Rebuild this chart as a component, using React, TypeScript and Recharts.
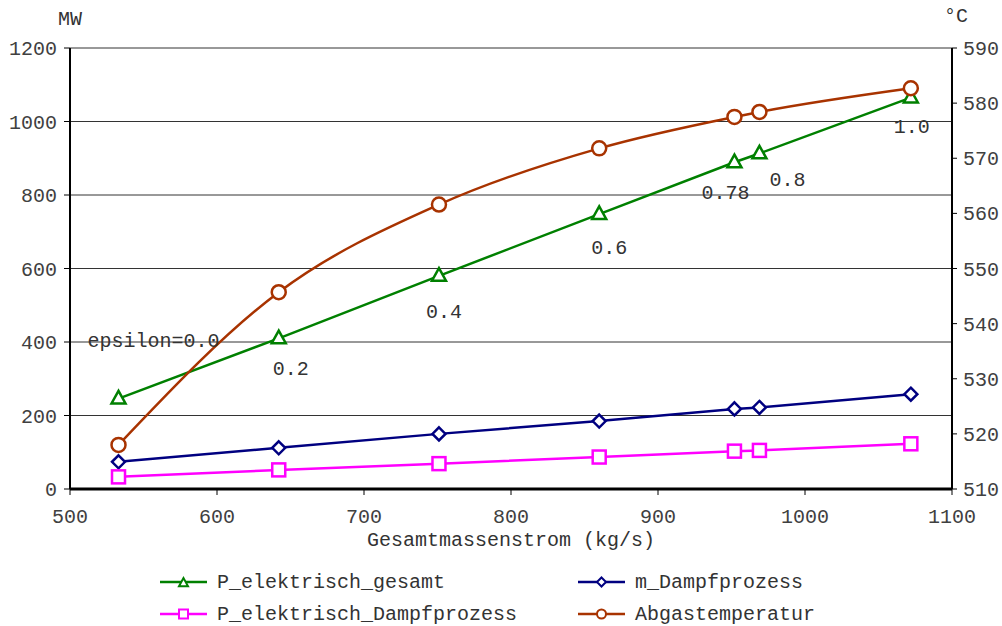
import * as React from 'react';
import { LineChart, Line, XAxis, YAxis, CartesianGrid, Legend, LabelList } from 'recharts';

const FONT = '"Liberation Mono", "DejaVu Sans Mono", monospace';

// mass flow through the plant, kg/s
const massFlow = [533, 642, 751, 860, 952, 969, 1072];
// power and steam values, MW
const pElGesamt = [246, 410, 580, 748, 889, 913, 1065];
const mDampf = [74, 112, 150, 185, 218, 222, 258];
const pElDampf = [33, 52, 69, 87, 103, 105, 123];
// exhaust gas temperature, °C
const abgasTemp = [518.0, 545.7, 561.6, 571.8, 577.5, 578.4, 582.7];
const epsilon = ['epsilon=0.0', '0.2', '0.4', '0.6', '0.78', '0.8', '1.0'];

const xTicks = [500, 600, 700, 800, 900, 1000, 1100];
const mwTicks = [0, 200, 400, 600, 800, 1000, 1200];
const tempTicks = [510, 520, 530, 540, 550, 560, 570, 580, 590];

const GREEN = '#008000';
const NAVY = '#000080';
const MAGENTA = '#ff00ff';
const BROWN = '#a83300';

const rows = massFlow.map((m, i) => ({
  massFlow: m,
  pElGesamt: pElGesamt[i],
  mDampf: mDampf[i],
  pElDampf: pElDampf[i],
  abgasTemp: abgasTemp[i],
  eps: epsilon[i],
}));

// where each epsilon label sits relative to its point
const epsOffsets = [
  [35, -57], [12, 31], [5, 37], [10, 34], [-9, 31], [28, 27], [1, 30],
];

type Shape = 'triangle' | 'diamond' | 'square' | 'circle';

function marker(shape: Shape, cx: number, cy: number, s: number, color: string, sw: number, key?: string) {
  const common = { fill: '#fff', stroke: color, strokeWidth: sw, key };
  if (shape === 'triangle') {
    return <polygon {...common} points={`${cx},${cy - s * 1.1} ${cx - s},${cy + s * 0.7} ${cx + s},${cy + s * 0.7}`} />;
  }
  if (shape === 'diamond') {
    return <polygon {...common} points={`${cx},${cy - s} ${cx + s},${cy} ${cx},${cy + s} ${cx - s},${cy}`} />;
  }
  if (shape === 'square') {
    return <rect {...common} x={cx - s} y={cy - s} width={s * 2} height={s * 2} />;
  }
  return <circle {...common} cx={cx} cy={cy} r={s} />;
}

const dotOf = (shape: Shape, color: string, size: number) => (p: any) =>
  marker(shape, p.cx, p.cy, size, color, 2.5, `${shape}-${p.index}`);

const EpsLabel = (p: any) => {
  const [dx, dy] = epsOffsets[p.index] || [0, 0];
  return (
    <text x={p.x + dx} y={p.y + dy} textAnchor="middle" dominantBaseline="central"
      fontFamily={FONT} fontSize={20} fill="#333">
      {p.value}
    </text>
  );
};

const legendItems: { name: string; color: string; shape: Shape; left: number; top: number }[] = [
  { name: 'P_elektrisch_gesamt', color: GREEN, shape: 'triangle', left: 160, top: 33 },
  { name: 'm_Dampfprozess', color: NAVY, shape: 'diamond', left: 578, top: 33 },
  { name: 'P_elektrisch_Dampfprozess', color: MAGENTA, shape: 'square', left: 160, top: 65 },
  { name: 'Abgastemperatur', color: BROWN, shape: 'circle', left: 578, top: 65 },
];

const renderLegend = () => (
  <div style={{ position: 'relative', height: 77, width: 1002 }}>
    {legendItems.map((it) => (
      <div key={it.name} style={{ position: 'absolute', left: it.left, top: it.top - 11, height: 22, display: 'flex', alignItems: 'center' }}>
        <svg width={48} height={22} style={{ marginRight: 9 }}>
          <line x1={0} y1={11} x2={47} y2={11} stroke={it.color} strokeWidth={2.5} />
          {marker(it.shape, 23.5, it.shape === 'triangle' ? 12 : 11, 4.5, it.color, 2)}
        </svg>
        <span style={{ fontFamily: FONT, fontSize: 20, color: '#333', whiteSpace: 'pre' }}>{it.name}</span>
      </div>
    ))}
  </div>
);

const tickStyle = { fontFamily: FONT, fontSize: 20, fill: '#404040' };

export default function App() {
  return (
    <div style={{ position: 'absolute', left: 0, top: 0, width: 1002, height: 626, background: '#fff' }}>
      <div style={{ position: 'absolute', left: 58, top: 8, fontFamily: FONT, fontSize: 20, color: '#333' }}>MW</div>
      <div style={{ position: 'absolute', left: 944, top: 5, fontFamily: FONT, fontSize: 20, color: '#333' }}>°C</div>
      <LineChart width={1002} height={626} data={rows} margin={{ top: 48, right: 0, left: 0, bottom: 0 }}>
        <CartesianGrid vertical={false} yAxisId="mw" stroke="#333" strokeWidth={1} />
        <XAxis
          dataKey="massFlow"
          type="number"
          domain={[500, 1100]}
          ticks={xTicks}
          height={60}
          tickSize={6}
          tickMargin={14}
          tick={tickStyle}
          tickLine={{ stroke: '#000' }}
          axisLine={{ stroke: '#000', strokeWidth: 3 }}
          label={{ value: 'Gesamtmassenstrom (kg/s)', position: 'insideBottom', offset: 3, style: { fontFamily: FONT, fontSize: 20, fill: '#333' } }}
        />
        <YAxis
          yAxisId="mw"
          domain={[0, 1200]}
          ticks={mwTicks}
          width={70}
          tickSize={6}
          tickMargin={7}
          tick={tickStyle}
          tickLine={{ stroke: '#000' }}
          axisLine={{ stroke: '#000', strokeWidth: 2 }}
        />
        <YAxis
          yAxisId="temp"
          orientation="right"
          domain={[510, 590]}
          ticks={tempTicks}
          width={50}
          tickSize={5}
          tickMargin={6}
          tick={tickStyle}
          tickLine={{ stroke: '#000' }}
          axisLine={{ stroke: '#000', strokeWidth: 2 }}
        />
        <Legend verticalAlign="bottom" content={renderLegend} />
        <Line yAxisId="mw" type="linear" dataKey="pElGesamt" name="P_elektrisch_gesamt" stroke={GREEN} strokeWidth={2.5}
          dot={dotOf('triangle', GREEN, 7)} isAnimationActive={false}>
          <LabelList dataKey="eps" content={EpsLabel} />
        </Line>
        <Line yAxisId="mw" type="linear" dataKey="mDampf" name="m_Dampfprozess" stroke={NAVY} strokeWidth={2.5}
          dot={dotOf('diamond', NAVY, 6.5)} isAnimationActive={false} />
        <Line yAxisId="mw" type="linear" dataKey="pElDampf" name="P_elektrisch_Dampfprozess" stroke={MAGENTA} strokeWidth={2.5}
          dot={dotOf('square', MAGENTA, 6.5)} isAnimationActive={false} />
        <Line yAxisId="temp" type="monotone" dataKey="abgasTemp" name="Abgastemperatur" stroke={BROWN} strokeWidth={2.5}
          dot={dotOf('circle', BROWN, 7)} isAnimationActive={false} />
      </LineChart>
    </div>
  );
}
